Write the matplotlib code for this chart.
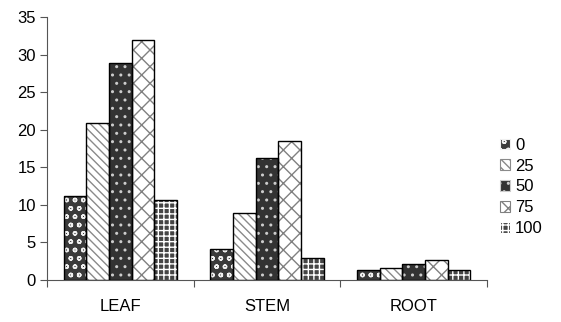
import matplotlib
matplotlib.use("Agg")
import matplotlib.pyplot as plt
from matplotlib.patches import Patch
import numpy as np

categories = ["LEAF", "STEM", "ROOT"]
series_labels = ["0", "25", "50", "75", "100"]
values = {
    "0":   [11.2, 4.1, 1.3],
    "25":  [20.9, 8.9, 1.6],
    "50":  [28.9, 16.3, 2.1],
    "75":  [31.9, 18.5, 2.7],
    "100": [10.7, 2.9, 1.3],
}
yticks = [0, 5, 10, 15, 20, 25, 30, 35]

styles = {
    "0":   dict(face="#3a3a3a", hcol="#f0f0f0", hatch="oo"),
    "25":  dict(face="white", hcol="#8a8a8a", hatch="\\\\\\\\"),
    "50":  dict(face="#333333", hcol="#cccccc", hatch=".."),
    "75":  dict(face="white", hcol="#808080", hatch="xx"),
    "100": dict(face="#444444", hcol="#ffffff", hatch="+++"),
}

plt.rcParams["font.family"] = ["Liberation Sans", "DejaVu Sans"]
plt.rcParams["hatch.linewidth"] = 1.0

fig = plt.figure(figsize=(5.61, 3.22), dpi=100)
ax = fig.add_axes([47/561, 1-280/322, (487-47)/561, (280-17)/322])

x = np.arange(len(categories))
w = 0.155
n = len(series_labels)
handles = []
for i, s in enumerate(series_labels):
    st = styles[s]
    pos = x + (i - (n-1)/2) * w
    ax.bar(pos, values[s], width=w, color=st["face"], edgecolor=st["hcol"],
           hatch=st["hatch"], linewidth=0, zorder=2)
    ax.bar(pos, values[s], width=w, fill=False, edgecolor="black",
           linewidth=1.0, zorder=3)
    handles.append(Patch(facecolor=st["face"], edgecolor=st["hcol"],
                         hatch=st["hatch"], linewidth=0.8, label=s))

ax.set_xlim(-0.5, 2.5)
ax.set_ylim(0, 35)
ax.set_yticks(yticks)
ax.set_xticks([-0.5, 0.5, 1.5, 2.5], minor=False)
ax.set_xticklabels([])
ax.set_xticks(x, minor=True)
ax.set_xticklabels(categories, minor=True)
ax.tick_params(axis="x", which="minor", length=0, pad=14, labelsize=12)
ax.tick_params(axis="x", which="major", length=5, color="#555555", direction="out")
ax.tick_params(axis="y", length=5, color="#555555", labelsize=12, pad=3)
for sp in ["top", "right"]:
    ax.spines[sp].set_visible(False)
ax.spines["left"].set_color("#555555")
ax.spines["bottom"].set_color("#555555")

fig.legend(handles=handles, loc="center left",
           bbox_to_anchor=(485/561, 1-187/322), frameon=False,
           handlelength=0.6, handleheight=0.6, handletextpad=0.3,
           labelspacing=0.35, fontsize=12)

fig.savefig("out.png", dpi=100)
